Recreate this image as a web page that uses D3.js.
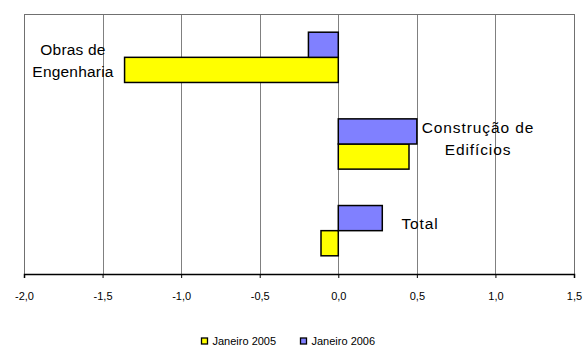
<!DOCTYPE html>
<html>
<head>
<meta charset="utf-8">
<script src="https://cdn.jsdelivr.net/npm/d3@7"></script>
<style>
  body { margin: 0; background: #fff; }
  text { font-family: "Liberation Sans", Arial, sans-serif; }
</style>
</head>
<body>
<svg id="chart" width="585" height="347"></svg>
<script>
let categories = ['Obras de Engenharia', 'Construção de Edifícios', 'Total']
let series_names = ['Janeiro 2005', 'Janeiro 2006']
let jan2005 = [-1.36, 0.45, -0.11]
let jan2006 = [-0.19, 0.50, 0.28]
let tick_values = [-2.0, -1.5, -1.0, -0.5, 0.0, 0.5, 1.0, 1.5]

let colors = ['#ffff00', '#8080ff']

let margin = {l: 24, r: 11, t: 14, b: 73}
let width = 585, height = 347

let svg = d3.select('#chart')

let x = d3.scaleLinear()
    .domain([-2, 1.5])
    .range([margin.l, width - margin.r])

let y = d3.scaleBand()
    .domain(categories)
    .range([margin.t, height - margin.b])
    .paddingInner(0.42)
    .paddingOuter(0.21)

// the 2006 bar is on top, 2005 below
let sub = d3.scaleBand()
    .domain(['Janeiro 2006', 'Janeiro 2005'])
    .range([0, y.bandwidth()])

// grid lines
svg.append('g')
    .selectAll('line')
    .data(tick_values)
    .join('line')
    .attr('x1', d => Math.round(x(d)) + 0.5)
    .attr('x2', d => Math.round(x(d)) + 0.5)
    .attr('y1', margin.t)
    .attr('y2', height - margin.b)
    .attr('stroke', '#808080')
    .attr('stroke-width', 1)

// plot border (top, left, right)
svg.append('path')
    .attr('d', `M${margin.l + 0.5},${height - margin.b}V${margin.t + 0.5}H${width - margin.r + 0.5}V${height - margin.b}`)
    .attr('fill', 'none')
    .attr('stroke', '#707070')

let rows = []
categories.forEach((c, i) => {
    rows.push({cat: c, name: 'Janeiro 2005', value: jan2005[i], color: colors[0]})
    rows.push({cat: c, name: 'Janeiro 2006', value: jan2006[i], color: colors[1]})
})

svg.append('g')
    .selectAll('rect')
    .data(rows)
    .join('rect')
    .attr('x', d => x(Math.min(0, d.value)))
    .attr('width', d => Math.abs(x(d.value) - x(0)))
    .attr('y', d => y(d.cat) + sub(d.name))
    .attr('height', sub.bandwidth())
    .attr('fill', d => d.color)
    .attr('stroke', '#000')
    .attr('stroke-width', 1.5)

// x axis
let axis = svg.append('g')
    .attr('transform', `translate(0, ${height - margin.b})`)
    .call(d3.axisBottom(x)
        .tickValues(tick_values)
        .tickSize(4)
        .tickFormat(d => d3.format('.1f')(d).replace('.', ',').replace('−', '-')))
axis.select('.domain').attr('stroke', '#000').attr('stroke-width', 1.5)
axis.selectAll('.tick line').attr('stroke', '#000')
axis.selectAll('.tick text')
    .attr('y', 18)
    .attr('font-size', 11)
    .attr('font-family', '"Liberation Sans", Arial, sans-serif')
    .attr('fill', '#000')

// category labels next to the bars
let labels = [
    {lines: ['Obras de', 'Engenharia'], cx: 73, dy: [-2, 20]},
    {lines: ['Construção de', 'Edifícios'], cx: 478, dy: [-11, 11]},
    {lines: ['Total'], cx: 420, dy: [-2]}
]
labels.forEach((l, i) => {
    let cy = y(categories[i]) + y.bandwidth() / 2
    l.lines.forEach((t, j) => {
        svg.append('text')
            .attr('x', l.cx)
            .attr('y', cy + l.dy[j])
            .attr('text-anchor', 'middle')
            .attr('font-size', 15.5)
            .attr('letter-spacing', i === 0 ? 0.2 : 0.9)
            .text(t)
    })
})

// legend
let legend = svg.append('g')
    .attr('transform', 'translate(201, 341)')
let lx = [0, 99]
series_names.forEach((s, i) => {
    let g = legend.append('g').attr('transform', `translate(${lx[i]}, 0)`)
    g.append('rect')
        .attr('x', 0.5).attr('y', -3)
        .attr('width', 6).attr('height', 6)
        .attr('fill', colors[i])
        .attr('stroke', '#000')
        .attr('stroke-width', 1.3)
    g.append('text')
        .attr('x', 11.5)
        .attr('y', 4)
        .attr('font-size', 11)
        .text(s)
})
</script>
</body>
</html>
